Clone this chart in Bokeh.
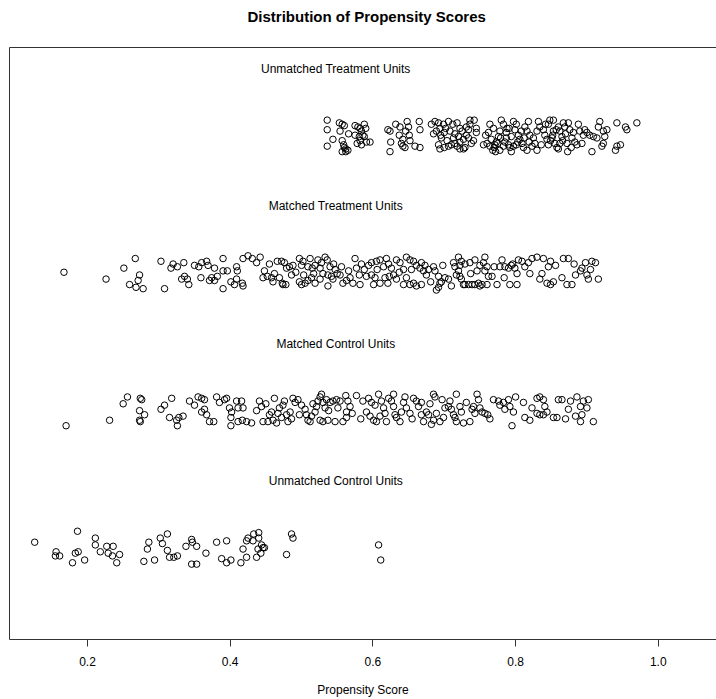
from bokeh.plotting import figure
from bokeh.models import LinearAxis, FixedTicker, Range1d, NumeralTickFormatter
from bokeh.core.properties import value
from bokeh.embed import file_html
from bokeh.resources import INLINE

title = "Distribution of Propensity Scores"
x_label = "Propensity Score"
group_names = ["Unmatched Treatment Units", "Matched Treatment Units",
               "Matched Control Units", "Unmatched Control Units"]
group_levels = [4, 3, 2, 1]
x_ticks = [0.2, 0.4, 0.6, 0.8, 1.0]

# (propensity score, jittered level)
unmatched_treated = [
    (0.536, 4.13), (0.536, 4.06), (0.544, 3.99), (0.536, 3.94), (0.553, 4.11), (0.557, 4.10),
    (0.560, 4.09), (0.554, 4.05), (0.557, 3.98), (0.559, 3.95), (0.560, 3.93), (0.562, 3.92),
    (0.557, 3.90), (0.562, 3.90), (0.565, 3.91), (0.575, 4.09), (0.579, 4.08), (0.582, 4.07),
    (0.584, 4.05), (0.588, 4.10), (0.590, 4.07), (0.575, 4.02), (0.581, 4.01), (0.586, 4.02),
    (0.582, 3.98), (0.584, 3.95), (0.591, 3.97), (0.596, 3.97), (0.588, 4.01), (0.621, 4.06),
    (0.624, 4.05), (0.625, 3.97), (0.624, 3.90), (0.632, 4.10), (0.638, 4.08), (0.637, 4.02),
    (0.640, 3.96), (0.642, 3.94), (0.645, 3.93), (0.648, 4.12), (0.650, 4.08), (0.651, 4.02),
    (0.652, 3.98), (0.659, 3.94), (0.666, 3.93), (0.665, 4.12), (0.666, 4.06), (0.682, 4.10),
    (0.687, 4.12), (0.692, 4.11), (0.685, 4.03), (0.689, 4.05), (0.694, 4.07), (0.695, 4.02),
    (0.696, 4.00), (0.699, 4.10), (0.706, 4.12), (0.712, 4.10), (0.718, 4.11), (0.715, 4.03),
    (0.720, 4.01), (0.722, 3.97), (0.727, 3.99), (0.731, 4.02), (0.734, 4.06), (0.736, 4.10),
    (0.736, 4.13), (0.742, 4.13), (0.745, 4.07), (0.745, 4.04), (0.692, 3.95), (0.694, 3.92),
    (0.700, 3.93), (0.706, 3.94), (0.710, 3.95), (0.715, 3.96), (0.722, 3.92), (0.727, 3.92),
    (0.729, 3.93), (0.734, 4.00), (0.741, 3.98), (0.702, 4.07), (0.722, 4.07), (0.731, 4.08),
    (0.738, 3.96),
    (0.764, 4.10), (0.769, 4.07), (0.762, 4.04), (0.755, 3.95), (0.760, 3.96), (0.764, 3.94),
    (0.768, 3.91), (0.771, 3.95), (0.773, 3.97), (0.766, 3.99), (0.776, 4.01), (0.778, 4.05),
    (0.780, 4.13), (0.783, 4.10), (0.787, 4.04), (0.787, 4.00), (0.785, 3.97), (0.790, 3.95),
    (0.792, 3.93), (0.794, 3.90), (0.778, 3.91), (0.772, 3.90), (0.797, 4.12), (0.801, 4.10),
    (0.799, 4.06), (0.804, 4.02), (0.806, 3.99), (0.809, 3.96), (0.801, 3.95), (0.797, 3.94),
    (0.811, 3.93), (0.816, 3.91), (0.818, 4.12), (0.813, 4.08), (0.816, 4.05), (0.820, 4.02),
    (0.825, 4.00), (0.827, 3.96), (0.823, 3.94), (0.830, 3.91), (0.832, 4.12), (0.834, 4.08),
    (0.839, 4.06), (0.841, 4.02), (0.844, 3.99), (0.846, 3.95), (0.848, 4.13), (0.853, 4.13),
    (0.846, 4.10), (0.853, 4.05), (0.851, 4.00), (0.855, 3.96), (0.858, 3.93), (0.860, 4.08),
    (0.862, 4.05), (0.865, 4.01), (0.867, 4.11), (0.869, 4.08), (0.874, 4.11), (0.872, 3.96),
    (0.873, 3.90), (0.876, 4.06), (0.879, 4.00), (0.881, 4.04), (0.883, 3.97), (0.886, 3.95),
    (0.888, 4.10), (0.890, 4.05), (0.895, 4.02), (0.897, 4.06), (0.900, 4.04), (0.904, 4.02),
    (0.909, 4.01), (0.907, 3.90), (0.914, 4.00), (0.916, 4.08), (0.918, 4.12), (0.923, 4.05),
    (0.925, 4.01), (0.923, 3.96), (0.921, 3.94), (0.928, 4.06), (0.893, 3.96), (0.862, 3.96),
    (0.830, 4.05), (0.794, 4.01), (0.791, 4.07), (0.942, 4.11), (0.954, 4.08), (0.956, 4.06),
    (0.970, 4.11), (0.947, 3.95), (0.942, 3.94), (0.940, 3.91),
    (0.770, 3.93), (0.775, 3.96), (0.779, 4.00), (0.783, 3.94), (0.788, 4.07), (0.758, 4.02),
    (0.803, 3.97), (0.808, 4.05), (0.812, 4.00), (0.819, 3.97), (0.836, 3.95), (0.842, 4.10),
    (0.849, 3.98), (0.852, 4.02), (0.857, 4.06), (0.860, 3.92), (0.866, 3.98), (0.870, 4.03),
    (0.878, 3.93), (0.700, 4.04), (0.704, 3.98), (0.708, 4.05), (0.713, 4.00), (0.718, 3.94),
    (0.725, 4.05), (0.566, 4.03), (0.578, 3.96), (0.642, 3.99), (0.646, 4.05),
]

matched_treated = [
    (0.167, 3.02), (0.226, 2.97), (0.267, 3.12), (0.251, 3.05), (0.259, 2.93), (0.268, 2.91),
    (0.278, 2.90), (0.271, 2.96), (0.273, 3.00), (0.303, 3.10), (0.317, 3.05), (0.320, 3.08),
    (0.326, 3.06), (0.335, 3.09), (0.332, 2.97), (0.336, 2.99), (0.340, 2.97), (0.342, 2.93),
    (0.308, 2.90), (0.350, 3.07), (0.356, 3.06), (0.360, 3.09), (0.367, 3.10), (0.369, 3.07),
    (0.378, 3.05), (0.390, 3.12), (0.390, 3.03), (0.396, 3.03), (0.409, 3.06), (0.410, 3.03),
    (0.409, 2.97), (0.406, 2.93), (0.359, 2.98), (0.371, 2.96), (0.374, 2.98), (0.382, 2.99),
    (0.378, 2.96), (0.401, 2.95), (0.390, 2.90),
    (0.418, 3.12), (0.425, 3.14), (0.431, 3.12), (0.437, 3.09), (0.442, 3.13), (0.417, 2.94),
    (0.418, 2.92), (0.446, 2.98), (0.452, 2.99), (0.458, 2.98), (0.460, 2.95), (0.469, 2.98),
    (0.473, 2.94), (0.474, 2.93), (0.466, 3.10), (0.472, 3.10), (0.476, 3.09), (0.479, 3.05),
    (0.483, 3.06), (0.488, 3.07), (0.486, 3.00), (0.497, 3.12), (0.502, 3.10), (0.500, 3.07),
    (0.512, 3.12), (0.509, 3.06), (0.515, 3.05), (0.519, 3.07), (0.523, 3.11), (0.526, 3.05),
    (0.533, 3.13), (0.536, 3.11), (0.540, 3.06), (0.530, 3.01), (0.537, 3.00), (0.542, 2.99),
    (0.544, 2.97), (0.550, 3.01), (0.554, 3.00), (0.547, 3.04), (0.497, 2.95), (0.500, 2.93),
    (0.505, 2.94), (0.509, 2.96), (0.514, 2.98), (0.519, 2.94), (0.526, 2.97), (0.537, 2.92),
    (0.558, 2.94), (0.563, 2.96), (0.568, 2.98), (0.575, 3.12), (0.577, 3.05), (0.584, 3.08),
    (0.581, 3.00), (0.591, 2.99), (0.598, 3.00), (0.603, 2.98), (0.610, 2.94), (0.601, 2.93),
    (0.594, 3.07), (0.598, 3.09), (0.605, 3.10), (0.610, 3.11), (0.619, 3.12), (0.615, 3.06),
    (0.622, 3.08), (0.626, 3.05), (0.629, 3.00), (0.633, 3.11), (0.638, 3.09), (0.643, 3.04),
    (0.647, 3.13), (0.652, 3.11), (0.657, 3.10), (0.661, 3.07), (0.666, 3.05), (0.668, 3.09),
    (0.671, 3.03), (0.647, 2.98), (0.652, 2.93), (0.657, 2.94), (0.661, 2.92), (0.668, 2.93),
    (0.643, 2.93), (0.633, 2.97), (0.572, 2.94), (0.582, 2.93), (0.617, 2.98), (0.623, 2.99),
    (0.673, 3.07), (0.675, 3.00), (0.678, 3.04), (0.685, 3.06), (0.687, 3.03), (0.692, 2.99),
    (0.694, 2.94), (0.692, 2.91), (0.689, 2.89), (0.696, 2.95), (0.701, 2.98), (0.706, 2.97),
    (0.713, 3.09), (0.715, 3.06), (0.720, 3.13), (0.722, 3.07), (0.724, 3.10), (0.720, 3.03),
    (0.717, 3.00), (0.722, 2.99), (0.724, 2.97), (0.727, 2.93), (0.729, 2.93), (0.734, 2.93),
    (0.739, 2.93), (0.743, 2.93), (0.748, 2.94), (0.750, 2.92), (0.753, 2.93), (0.729, 3.08),
    (0.736, 3.09), (0.743, 3.11), (0.746, 3.03), (0.750, 3.07), (0.755, 3.09), (0.757, 3.13),
    (0.760, 3.06), (0.757, 3.03), (0.762, 2.99), (0.767, 2.99), (0.760, 2.93), (0.774, 2.93),
    (0.778, 3.06), (0.785, 3.06), (0.790, 3.05), (0.794, 3.07), (0.796, 3.08), (0.799, 3.05),
    (0.802, 3.01), (0.784, 2.98), (0.792, 2.93), (0.802, 2.93), (0.804, 3.11), (0.809, 3.10),
    (0.813, 3.06), (0.818, 3.09), (0.823, 3.12), (0.830, 3.13), (0.839, 3.12), (0.849, 3.10),
    (0.846, 3.06), (0.837, 3.01), (0.834, 2.97), (0.844, 2.94), (0.849, 2.93), (0.853, 2.95),
    (0.865, 2.98), (0.867, 3.12), (0.874, 3.12), (0.872, 2.93), (0.879, 2.93), (0.884, 3.00),
    (0.891, 3.03), (0.893, 3.05), (0.898, 3.09), (0.900, 3.00), (0.902, 2.97), (0.907, 3.10),
    (0.912, 3.09), (0.905, 3.04), (0.916, 2.97),
    (0.448, 3.03), (0.455, 3.08), (0.462, 3.01), (0.478, 2.93), (0.492, 3.02), (0.503, 3.00),
    (0.517, 3.01), (0.528, 3.09), (0.545, 3.08), (0.556, 3.06), (0.566, 3.03), (0.588, 3.04),
    (0.606, 3.04), (0.621, 2.94), (0.637, 3.02), (0.654, 3.04), (0.681, 2.95), (0.698, 3.07),
    (0.710, 2.92), (0.737, 3.01), (0.770, 3.06), (0.781, 3.11), (0.820, 3.01), (0.856, 3.07),
    (0.882, 3.08),
]

matched_control = [
    (0.170, 1.90), (0.231, 1.94), (0.256, 2.11), (0.250, 2.06), (0.274, 2.10), (0.276, 2.09),
    (0.273, 2.01), (0.280, 1.98), (0.273, 1.94), (0.274, 1.93), (0.303, 2.02), (0.308, 2.05),
    (0.318, 2.10), (0.315, 1.96), (0.325, 1.94), (0.328, 1.96), (0.334, 1.97), (0.326, 1.90),
    (0.343, 2.08), (0.350, 2.05), (0.355, 2.11), (0.360, 2.10), (0.364, 2.09), (0.360, 2.00),
    (0.364, 2.02), (0.367, 1.98), (0.371, 1.93), (0.377, 1.93), (0.381, 2.11), (0.385, 2.07),
    (0.392, 2.09), (0.395, 2.10), (0.399, 2.03), (0.402, 2.00), (0.401, 1.96), (0.409, 2.08),
    (0.411, 2.03), (0.401, 1.90), (0.411, 1.93),
    (0.416, 2.08), (0.418, 2.03), (0.417, 1.94), (0.423, 1.93), (0.430, 1.92), (0.441, 2.08),
    (0.444, 2.04), (0.446, 1.93), (0.453, 1.93), (0.455, 1.98), (0.458, 2.00), (0.460, 1.94),
    (0.465, 1.92), (0.467, 1.99), (0.469, 2.03), (0.474, 2.05), (0.476, 2.08), (0.481, 1.93),
    (0.479, 1.98), (0.484, 2.00), (0.488, 2.10), (0.491, 2.07), (0.495, 2.09), (0.500, 2.05),
    (0.505, 2.02), (0.507, 1.98), (0.509, 1.94), (0.512, 1.93), (0.514, 1.97), (0.519, 2.00),
    (0.521, 2.04), (0.523, 2.08), (0.526, 2.11), (0.528, 2.13), (0.530, 2.07), (0.533, 2.03),
    (0.535, 2.09), (0.540, 2.07), (0.544, 2.08), (0.549, 2.09), (0.554, 2.08), (0.526, 1.94),
    (0.530, 1.93), (0.537, 1.94), (0.547, 1.93), (0.558, 1.93), (0.563, 1.96), (0.562, 2.12),
    (0.565, 2.08), (0.568, 2.04), (0.563, 2.00), (0.577, 2.12), (0.586, 2.08), (0.594, 2.10),
    (0.598, 2.07), (0.591, 2.00), (0.596, 1.97), (0.601, 1.94), (0.605, 1.93), (0.610, 1.97),
    (0.608, 2.13), (0.612, 2.08), (0.615, 2.03), (0.617, 1.99), (0.619, 1.93), (0.626, 2.08),
    (0.629, 2.04), (0.631, 1.98), (0.633, 1.96), (0.638, 1.93), (0.643, 2.07), (0.647, 2.03),
    (0.652, 1.99), (0.657, 2.10), (0.661, 2.08), (0.664, 2.04), (0.668, 2.07), (0.668, 1.98),
    (0.671, 1.93), (0.645, 2.11), (0.629, 2.13),
    (0.685, 2.13), (0.687, 2.11), (0.675, 2.00), (0.678, 1.98), (0.685, 1.94), (0.682, 1.91),
    (0.689, 1.99), (0.694, 1.93), (0.699, 1.96), (0.701, 2.03), (0.706, 2.04), (0.708, 2.08),
    (0.710, 2.02), (0.713, 1.98), (0.715, 1.96), (0.717, 2.13), (0.717, 1.93), (0.722, 2.04),
    (0.724, 2.00), (0.727, 1.92), (0.739, 2.02), (0.741, 2.04), (0.743, 1.99), (0.746, 2.13),
    (0.748, 2.09), (0.750, 2.03), (0.753, 2.00), (0.757, 1.99), (0.761, 1.98), (0.736, 1.93),
    (0.769, 2.09), (0.776, 2.08), (0.778, 2.05), (0.783, 2.07), (0.785, 2.02), (0.790, 2.09),
    (0.792, 2.04), (0.797, 2.00), (0.795, 1.90), (0.811, 2.07), (0.813, 1.96), (0.820, 1.94),
    (0.830, 2.10), (0.834, 2.11), (0.839, 2.09), (0.830, 1.99), (0.834, 1.98), (0.839, 1.98),
    (0.844, 2.00), (0.841, 2.04), (0.853, 1.96), (0.858, 1.96), (0.860, 2.09), (0.865, 2.09),
    (0.874, 2.02), (0.877, 2.08), (0.886, 2.11), (0.891, 2.04), (0.895, 2.08), (0.902, 2.09),
    (0.900, 2.03), (0.893, 1.98), (0.891, 1.93), (0.909, 1.93),
    (0.437, 2.01), (0.450, 2.06), (0.462, 2.10), (0.472, 1.96), (0.486, 1.95), (0.497, 1.98),
    (0.516, 2.06), (0.538, 2.01), (0.551, 2.03), (0.571, 1.99), (0.583, 1.95), (0.603, 2.05),
    (0.622, 2.10), (0.640, 2.00), (0.655, 1.95), (0.680, 2.06), (0.697, 2.09), (0.731, 2.07),
    (0.764, 1.95), (0.800, 2.11), (0.823, 2.03), (0.870, 1.95), (0.884, 1.97),
]

unmatched_control = [
    (0.126, 1.05), (0.186, 1.13), (0.156, 0.98), (0.155, 0.95), (0.161, 0.95), (0.183, 0.97),
    (0.187, 0.98), (0.179, 0.90), (0.196, 0.92), (0.211, 1.08), (0.211, 1.03), (0.218, 0.98),
    (0.227, 1.02), (0.236, 1.02), (0.229, 0.97), (0.235, 0.95), (0.245, 0.96), (0.241, 0.90),
    (0.279, 0.91), (0.286, 1.05), (0.284, 1.00), (0.294, 0.92), (0.302, 1.08), (0.305, 1.04),
    (0.312, 1.11), (0.312, 0.99), (0.315, 0.94), (0.321, 0.94), (0.326, 0.95), (0.338, 1.02),
    (0.346, 1.07), (0.347, 1.05), (0.353, 1.02), (0.366, 0.97), (0.346, 0.89), (0.353, 0.89),
    (0.381, 1.05), (0.395, 1.06), (0.388, 0.93), (0.395, 0.90), (0.401, 0.92), (0.415, 0.90),
    (0.418, 1.00), (0.423, 1.06), (0.425, 1.08), (0.432, 1.06), (0.433, 1.11), (0.440, 1.12),
    (0.440, 1.08), (0.444, 1.03), (0.439, 1.00), (0.446, 1.01), (0.448, 1.01), (0.443, 0.97),
    (0.423, 0.94), (0.437, 0.94), (0.479, 0.96), (0.486, 1.11), (0.488, 1.08), (0.608, 1.03),
    (0.611, 0.92),
]

groups = [unmatched_treated, matched_treated, matched_control, unmatched_control]

FONT = "Liberation Sans"
LINE = "#333333"

p = figure(width=716, height=699, output_backend="svg", toolbar_location=None,
           x_range=Range1d(0.0907, 1.0816), y_range=Range1d(0.34, 4.66),
           y_axis_location=None, title=title,
           min_border_left=9, min_border_right=0, min_border_top=47, min_border_bottom=60)
p.outline_line_color = None
p.grid.visible = False
p.background_fill_color = "white"
p.border_fill_color = "white"

p.title.text_font = FONT
p.title.text_font_size = "15px"
p.title.text_font_style = "bold"
p.title.text_color = "black"
p.title.align = "left"
p.title.offset = 238
p.title.standoff = 10

xa = p.xaxis[0]
xa.ticker = FixedTicker(ticks=x_ticks)
xa.formatter = NumeralTickFormatter(format="0.0")
xa.axis_label = x_label
xa.axis_label_text_font = FONT
xa.axis_label_text_font_size = "12px"
xa.axis_label_text_font_style = "normal"
xa.axis_label_text_color = "black"
xa.axis_label_standoff = 14
xa.major_label_text_font = FONT
xa.major_label_text_font_size = "12px"
xa.major_label_text_color = "black"
xa.major_label_standoff = 10
xa.major_tick_out = 7
xa.major_tick_in = 0
xa.minor_tick_out = 0
xa.minor_tick_in = 0
xa.axis_line_color = LINE
xa.major_tick_line_color = LINE

left_axis = LinearAxis(ticker=FixedTicker(ticks=[]), major_tick_out=0, major_tick_in=0,
                       minor_tick_out=0, minor_tick_in=0, major_label_standoff=0,
                       axis_line_color=LINE)
p.add_layout(left_axis, "left")

# top border line; its blank label only reserves space so the title sits higher
top_axis = LinearAxis(ticker=FixedTicker(ticks=[]), major_tick_out=0, major_tick_in=0,
                      minor_tick_out=0, minor_tick_in=0, major_label_standoff=0,
                      axis_line_color=LINE, axis_label=" ", axis_label_standoff=1,
                      axis_label_text_font_size="12px")
p.add_layout(top_axis, "above")

for pts in groups:
    xs = [a for a, b in pts]
    ys = [b for a, b in pts]
    p.scatter(xs, ys, marker="circle", size=6.5, fill_color=None,
              line_color="black", line_width=1)

all_x = [a for g in groups for a, b in g]
mid = (min(all_x) + max(all_x)) / 2
p.text(x=[mid] * len(group_names), y=[lv + 0.5 for lv in group_levels], text=group_names,
       text_align="center", text_baseline="middle", text_font=value(FONT),
       text_font_size="12px", text_color="black")

open("out.html", "w").write(file_html(p, INLINE))
